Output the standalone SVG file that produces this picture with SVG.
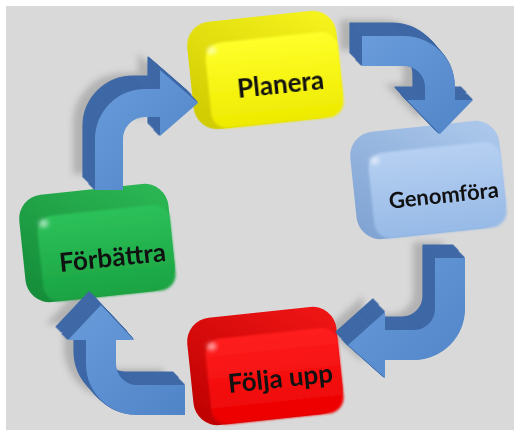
<svg xmlns="http://www.w3.org/2000/svg" width="514" height="430" viewBox="0 0 514 430">
<defs>
<style>
.lbl{font-family:Lato,"Open Sans","Liberation Sans",sans-serif;font-weight:bold;fill:#111;text-anchor:middle;dominant-baseline:central}
.shadow{fill:#a8a8a8;opacity:.8}
.ext{fill:#3e68a6;stroke:#3e68a6;stroke-width:1.2;stroke-linejoin:round}
.front{fill:url(#gArrow)}
.hl{fill:#fff;opacity:.55}
</style>
<filter id="blur" x="-20%" y="-20%" width="140%" height="140%"><feGaussianBlur stdDeviation="3"/></filter>
<filter id="soft" x="-50%" y="-50%" width="200%" height="200%"><feGaussianBlur stdDeviation="2"/></filter>
<filter id="edge" x="-10%" y="-10%" width="120%" height="120%"><feGaussianBlur stdDeviation="1.2"/></filter>
<linearGradient id="gArrow" x1="0" y1="0" x2="1" y2="1"><stop offset="0" stop-color="#6a9cdb"/><stop offset="1" stop-color="#4f84c7"/></linearGradient>
<linearGradient id="ySide" x1="1" y1="0" x2="0" y2="1"><stop offset="0" stop-color="#f8f51e"/><stop offset="1" stop-color="#cdc800"/></linearGradient>
<linearGradient id="yFront" x1="0" y1="0" x2="0" y2="1"><stop offset="0" stop-color="#ffff2a"/><stop offset="1" stop-color="#eeea00"/></linearGradient>
<linearGradient id="bSide" x1="1" y1="0" x2="0" y2="1"><stop offset="0" stop-color="#aecaed"/><stop offset="1" stop-color="#7ea1d1"/></linearGradient>
<linearGradient id="bFront" x1="0" y1="0" x2="0" y2="1"><stop offset="0" stop-color="#b6d0f2"/><stop offset="1" stop-color="#97bae6"/></linearGradient>
<linearGradient id="gSide" x1="1" y1="0" x2="0" y2="1"><stop offset="0" stop-color="#2cb955"/><stop offset="1" stop-color="#148a38"/></linearGradient>
<linearGradient id="gFront" x1="0" y1="0" x2="0" y2="1"><stop offset="0" stop-color="#2dc15a"/><stop offset="1" stop-color="#1aa343"/></linearGradient>
<linearGradient id="rSide" x1="1" y1="0" x2="0" y2="1"><stop offset="0" stop-color="#f21616"/><stop offset="1" stop-color="#bc0000"/></linearGradient>
<linearGradient id="rFront" x1="0" y1="0" x2="0" y2="1"><stop offset="0" stop-color="#ff2020"/><stop offset="1" stop-color="#ec0000"/></linearGradient>
<path id="shA" d="M 95 190 L 95 139 A 50 50 0 0 1 145 89 L 160 89 L 160 70 L 198 103 L 160 136 L 160 117 L 145 117 A 22 22 0 0 0 123 139 L 123 190 Z"/>
<path id="shB" d="M 362 36 L 404 36 A 51 51 0 0 1 455 87 L 455 100 L 473 100 L 440 134 L 407 100 L 425 100 L 425 87 A 21 21 0 0 0 404 66 L 362 66 Z"/>
<path id="shC" d="M 435 258 L 465 258 L 465 309 A 51 51 0 0 1 414 360 L 385 360 L 385 378 L 348 345 L 385 312 L 385 330 L 414 330 A 21 21 0 0 0 435 309 Z"/>
<path id="shD" d="M 185 385 L 137 385 A 21 21 0 0 1 116 364 L 116 340 L 134 340 L 101 305 L 68 340 L 86 340 L 86 364 A 51 51 0 0 0 137 415 L 185 415 Z"/>
<g id="extA"><use href="#shA" transform="translate(-12,-13)"/><use href="#shA" transform="translate(-11,-12)"/><use href="#shA" transform="translate(-10,-11)"/><use href="#shA" transform="translate(-9,-10)"/><use href="#shA" transform="translate(-8,-9)"/><use href="#shA" transform="translate(-7,-8)"/><use href="#shA" transform="translate(-6,-6)"/><use href="#shA" transform="translate(-5,-5)"/><use href="#shA" transform="translate(-4,-4)"/><use href="#shA" transform="translate(-3,-3)"/><use href="#shA" transform="translate(-2,-2)"/><use href="#shA" transform="translate(-1,-1)"/></g>
<g id="extB"><use href="#shB" transform="translate(-12,-13)"/><use href="#shB" transform="translate(-11,-12)"/><use href="#shB" transform="translate(-10,-11)"/><use href="#shB" transform="translate(-9,-10)"/><use href="#shB" transform="translate(-8,-9)"/><use href="#shB" transform="translate(-7,-8)"/><use href="#shB" transform="translate(-6,-6)"/><use href="#shB" transform="translate(-5,-5)"/><use href="#shB" transform="translate(-4,-4)"/><use href="#shB" transform="translate(-3,-3)"/><use href="#shB" transform="translate(-2,-2)"/><use href="#shB" transform="translate(-1,-1)"/></g>
<g id="extC"><use href="#shC" transform="translate(-12,-13)"/><use href="#shC" transform="translate(-11,-12)"/><use href="#shC" transform="translate(-10,-11)"/><use href="#shC" transform="translate(-9,-10)"/><use href="#shC" transform="translate(-8,-9)"/><use href="#shC" transform="translate(-7,-8)"/><use href="#shC" transform="translate(-6,-6)"/><use href="#shC" transform="translate(-5,-5)"/><use href="#shC" transform="translate(-4,-4)"/><use href="#shC" transform="translate(-3,-3)"/><use href="#shC" transform="translate(-2,-2)"/><use href="#shC" transform="translate(-1,-1)"/></g>
<g id="extD"><use href="#shD" transform="translate(-12,-13)"/><use href="#shD" transform="translate(-11,-12)"/><use href="#shD" transform="translate(-10,-11)"/><use href="#shD" transform="translate(-9,-10)"/><use href="#shD" transform="translate(-8,-9)"/><use href="#shD" transform="translate(-7,-8)"/><use href="#shD" transform="translate(-6,-6)"/><use href="#shD" transform="translate(-5,-5)"/><use href="#shD" transform="translate(-4,-4)"/><use href="#shD" transform="translate(-3,-3)"/><use href="#shD" transform="translate(-2,-2)"/><use href="#shD" transform="translate(-1,-1)"/></g>
</defs>
<rect x="0" y="0" width="514" height="430" fill="#ffffff"/>
<rect x="6" y="6" width="508" height="424" fill="#d9d9d9"/>
<g id="shadows" class="shadow" filter="url(#blur)">
<use href="#shA" transform="translate(-22,-16)"/>
<use href="#shB" transform="translate(-22,-16)"/>
<use href="#shC" transform="translate(-22,-16)"/>
<use href="#shD" transform="translate(-22,-16)"/>
</g>
<g id="planera" transform="translate(265,70) rotate(-6)">
<rect x="-75" y="-54" width="150" height="108" rx="24" fill="url(#ySide)"/>
<rect x="-58" y="-32" width="133" height="86" rx="16" fill="url(#yFront)" filter="url(#edge)"/>
<ellipse class="hl" cx="-51" cy="-25" rx="5" ry="4" filter="url(#soft)"/>
<text class="lbl" x="14" y="15" font-size="26">Planera</text>
</g>
<g id="genomfora" transform="translate(428,180) rotate(-6)">
<rect x="-75" y="-54" width="150" height="108" rx="24" fill="url(#bSide)"/>
<rect x="-58" y="-32" width="133" height="86" rx="16" fill="url(#bFront)" filter="url(#edge)"/>
<ellipse class="hl" cx="-51" cy="-25" rx="5" ry="4" filter="url(#soft)"/>
<text class="lbl" x="14" y="16" font-size="22">Genomföra</text>
</g>
<g id="forbattra" transform="translate(97,243) rotate(-6)">
<rect x="-75" y="-54" width="150" height="108" rx="24" fill="url(#gSide)"/>
<rect x="-58" y="-32" width="133" height="86" rx="16" fill="url(#gFront)" filter="url(#edge)"/>
<ellipse class="hl" cx="-51" cy="-25" rx="5" ry="4" filter="url(#soft)"/>
<text class="lbl" x="14" y="15" font-size="26">Förbättra</text>
</g>
<g id="foljaupp" transform="translate(265,366) rotate(-6)">
<rect x="-75" y="-54" width="150" height="108" rx="24" fill="url(#rSide)"/>
<rect x="-58" y="-32" width="133" height="86" rx="16" fill="url(#rFront)" filter="url(#edge)"/>
<ellipse class="hl" cx="-51" cy="-25" rx="5" ry="4" filter="url(#soft)"/>
<text class="lbl" x="14" y="13" font-size="26">Följa upp</text>
</g>
<g id="connectors">
<g class="ext">
<use href="#extA"/><use href="#extB"/><use href="#extC"/><use href="#extD"/>
</g>
<g class="front">
<use href="#shA"/><use href="#shB"/><use href="#shC"/><use href="#shD"/>
</g>
</g>
</svg>
